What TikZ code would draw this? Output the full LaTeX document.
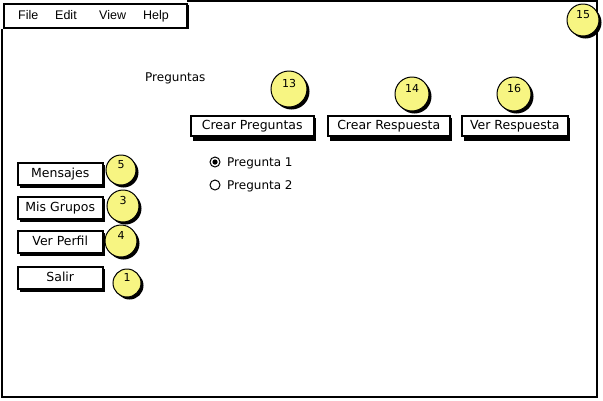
\documentclass[tikz,border=0pt]{standalone}
\usepackage{fontspec}
\setmainfont{DejaVu Sans}
\newfontfamily\menufont{Liberation Sans}
\definecolor{stickyY}{RGB}{247,245,130}
\begin{document}
\begin{tikzpicture}[x=1pt,y=-1pt,
  btn/.style={draw=black,line width=1.5pt,fill=white,minimum height=20pt,inner sep=0pt,text height=9pt,text depth=2.5pt,font=\fontsize{12.5}{14}\selectfont},
  markc/.style={circle,fill=stickyY,draw=black,line width=1pt,inner sep=0pt},
  marknum/.style={font=\fontsize{11}{12}\selectfont,inner sep=0pt,text height=8pt,text depth=0pt},
  menuitem/.style={font=\menufont\fontsize{12.5}{14}\selectfont,anchor=base west,inner sep=0pt},
  lbl/.style={font=\fontsize{12}{14}\selectfont,inner sep=0pt,anchor=base west}]
\useasboundingbox (0,0) rectangle (603,400);
\fill[white] (0,0) rectangle (603,400);
% window frame
\draw[line width=2pt] (2,29) -- (2,397) -- (597,397) -- (597,1) -- (187,1);
% menu bar
\fill (5,5) rectangle (189,29);
\node[draw=black,line width=1.5pt,fill=white,minimum width=183pt,minimum height=24pt,inner sep=0pt,anchor=north west] (menu) at (3,3) {};
\node[menuitem] (mfile) at (18,19) {File};
\node[menuitem] (medit) at (55,19) {Edit};
\node[menuitem] (mview) at (99,19) {View};
\node[menuitem] (mhelp) at (143,19) {Help};
% label
\node[lbl] (preg) at (145,81) {Preguntas};
% top buttons
\foreach \n/\xa/\xb/\t in {bcp/190/313/Crear Preguntas, bcr/327/449/Crear Respuesta, bvr/461/567/Ver Respuesta}{
  \fill (\xa+3,118) rectangle (\xb+3,141);
  \node[btn,minimum width=\xb-\xa,anchor=north west] (\n) at (\xa,115) {\t};
}
% left buttons
\foreach \n/\y/\t in {bmen/162/Mensajes, bmis/196/Mis Grupos, bver/230/Ver Perfil, bsal/266/Salir}{
  \fill (20,\y+3) rectangle (105,\y+26);
  \node[btn,minimum width=85pt,minimum height=22pt,anchor=north west] (\n) at (17,\y) {\t};
}
% radio buttons
\draw[line width=1pt] (215,162) circle (5);
\fill (215,162) circle (2.6);
\node[lbl] (r1) at (227,166.5) {Pregunta 1};
\draw[line width=1pt] (215,185) circle (5);
\node[lbl] (r2) at (227,189.5) {Pregunta 2};
% markers
\foreach \n/\x/\y/\r/\t in {m5/121/170/15/5, m3/123/206/16/3, m4/121/241/16/4, m1/127/283/14/1, m13/289/89/18/13, m14/412/94/17/14, m16/514/94/17/16, m15/583/20/16/15}{
  \fill (\x+2.5,\y+2.5) circle (\r);
  \node[markc,minimum size=2*\r] (\n) at (\x,\y) {};
  \node[marknum] (\n t) at (\x,\y-6) {\t};
}
\end{tikzpicture}
\end{document}
